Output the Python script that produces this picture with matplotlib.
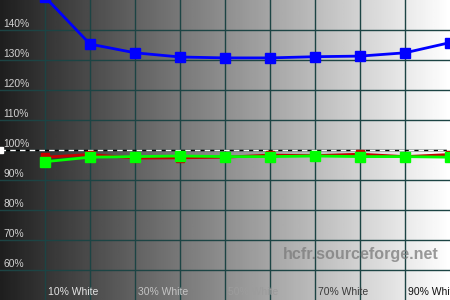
# HCFR-style luminance / white level chart
import matplotlib
matplotlib.use("Agg")
import matplotlib.pyplot as plt
import numpy as np

plt.rcParams['font.family'] = ['Liberation Sans', 'DejaVu Sans']

# x positions (% white) of measurements
levels = [10, 20, 30, 40, 50, 60, 70, 80, 90, 100]
# values (%)
blue = [151.0, 135.3, 132.4, 131.0, 130.7, 130.7, 131.1, 131.3, 132.4, 135.8]
red = [97.6, 98.5, 97.3, 97.4, 97.6, 98.3, 98.1, 98.6, 97.8, 98.5]
green = [96.1, 97.6, 97.8, 98.0, 97.8, 97.8, 98.0, 97.8, 97.8, 97.6]

ytick_vals = [60, 70, 80, 90, 100, 110, 120, 130, 140]
ytick_labels = ['60%', '70%', '80%', '90%', '100%', '110%', '120%', '130%', '140%']
xlabel_pos = [10, 30, 50, 70, 90]
xlabel_text = ['10% White', '30% White', '50% White', '70% White', '90% White']
xlabel_colors = ['#e4e4e4', '#c4c4c4', '#9c9c9c', '#3a3a3a', '#111111']

fig = plt.figure(figsize=(4.5, 3), dpi=100)
ax = fig.add_axes([0, 0, 1, 1])
ax.set_xlim(0, 100)
ax.set_ylim(50, 150)
ax.axis('off')

# grey gradient background
grad = np.linspace(0.12, 1.0, 256).reshape(1, -1)
ax.imshow(grad, cmap='gray', vmin=0, vmax=1, aspect='auto',
          extent=[0, 100, 50, 150], zorder=0)

# grid
grid_c = '#1c4444'
for x in range(10, 100, 10):
    ax.axvline(x, color=grid_c, lw=1, zorder=1)
for y in ytick_vals:
    ax.axhline(y, color=grid_c, lw=1, zorder=1)

# reference line at 100%
ax.axhline(100, color='black', lw=1, zorder=2)
ax.axhline(100, color='white', lw=1, ls=(0, (4, 3)), zorder=2.1)
ax.plot([0, 100], [100, 100], 's', color='white', ms=5, zorder=2.2,
        clip_on=False)

# y labels
for v, t in zip(ytick_vals, ytick_labels):
    ax.text(0.7, v + 1.0, t, color='#d2d2d2', fontsize=7.4,
            ha='left', va='baseline', zorder=5)

# x labels
for x, t, c in zip(xlabel_pos, xlabel_text, xlabel_colors):
    ax.text(x + 0.7, 52.6, t, color=c, fontsize=7.5,
            ha='left', va='center', zorder=5)

# watermark
ax.text(62.9, 65, 'hcfr.sourceforge.net', color='#7a7a7a', alpha=0.75,
        fontsize=11.6, fontweight='bold', ha='left', va='center', zorder=1.5)

# series
ax.plot(levels, blue, color='#0000ff', lw=2, marker='s', ms=6.5, zorder=4,
        clip_on=True)
ax.plot(levels, red, color='#c80000', lw=2, marker='s', ms=5.5, zorder=3)
ax.plot(levels, green, color='#00ff00', lw=2, marker='s', ms=6.5, zorder=3.5)

fig.savefig('out.png', dpi=100)
